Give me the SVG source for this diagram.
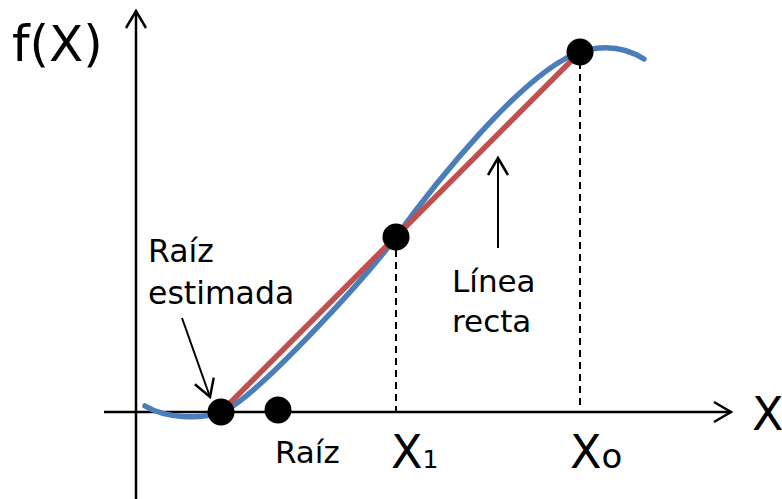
<svg xmlns="http://www.w3.org/2000/svg" width="782" height="499" viewBox="0 0 782 499">
<defs>
<marker id="ah" markerUnits="userSpaceOnUse" markerWidth="30" markerHeight="30" viewBox="-20 -15 30 30" refX="0" refY="0" orient="auto" overflow="visible">
<path d="M-17,-10 L0,0 L-17,10" fill="none" stroke="#000" stroke-width="2.5"/>
</marker>
</defs>
<style>
.ax{stroke:#000;stroke-width:2.5;fill:none}
.ar{stroke:#000;stroke-width:2;fill:none}
.dash{stroke:#000;stroke-width:2;stroke-dasharray:7 5;fill:none}
.t{font-family:"DejaVu Sans","Verdana",sans-serif;fill:#000}
.dot{fill:#000}
</style>
<rect width="782" height="499" fill="#fff"/>
<g id="axes">
<line class="ax" x1="136" y1="499" x2="136" y2="11" marker-end="url(#ah)"/>
<line class="ax" x1="104" y1="412" x2="731" y2="412" marker-end="url(#ah)"/>
</g>
<g id="connectors">
<line class="dash" x1="396" y1="250" x2="396" y2="418"/>
<line class="dash" x1="580" y1="62" x2="580" y2="405"/>
<line class="ar" x1="182" y1="318" x2="210" y2="397" marker-end="url(#ah)"/>
<line class="ar" x1="498" y1="248" x2="498" y2="158" marker-end="url(#ah)"/>
</g>
<g id="curves">
<path d="M145,406 C165,418 200,420 221,412 C250,404 362,282 396,237 C430,190 522,72 580,52 C605,44 625,47 644,59" fill="none" stroke="#4A7EBB" stroke-width="5.5" stroke-linecap="round"/>
<line x1="221" y1="412" x2="580" y2="52" stroke="#C0504D" stroke-width="5.5"/>
</g>
<g id="points">
<circle id="p-est" class="dot" cx="221" cy="412" r="13.5"/>
<circle id="p-root" class="dot" cx="278" cy="410" r="13.5"/>
<circle id="p-x1" class="dot" cx="396" cy="237" r="13.5"/>
<circle id="p-x0" class="dot" cx="580" cy="52" r="13.5"/>
</g>
<g id="labels">
<text class="t" x="12" y="61" font-size="50">f(X)</text>
<text class="t" x="752" y="430" font-size="46">X</text>
<text class="t" x="391" y="468" font-size="46">X<tspan font-size="25">1</tspan></text>
<text class="t" x="570" y="468" font-size="46">X<tspan font-size="34">o</tspan></text>
<text class="t" x="275" y="463" font-size="31">Raíz</text>
<text class="t" x="148" y="262" font-size="31.5">Raíz</text>
<text class="t" x="148" y="304" font-size="31.5">estimada</text>
<text class="t" x="452" y="292" font-size="31">Línea</text>
<text class="t" x="452" y="332" font-size="31">recta</text>
</g>
</svg>
